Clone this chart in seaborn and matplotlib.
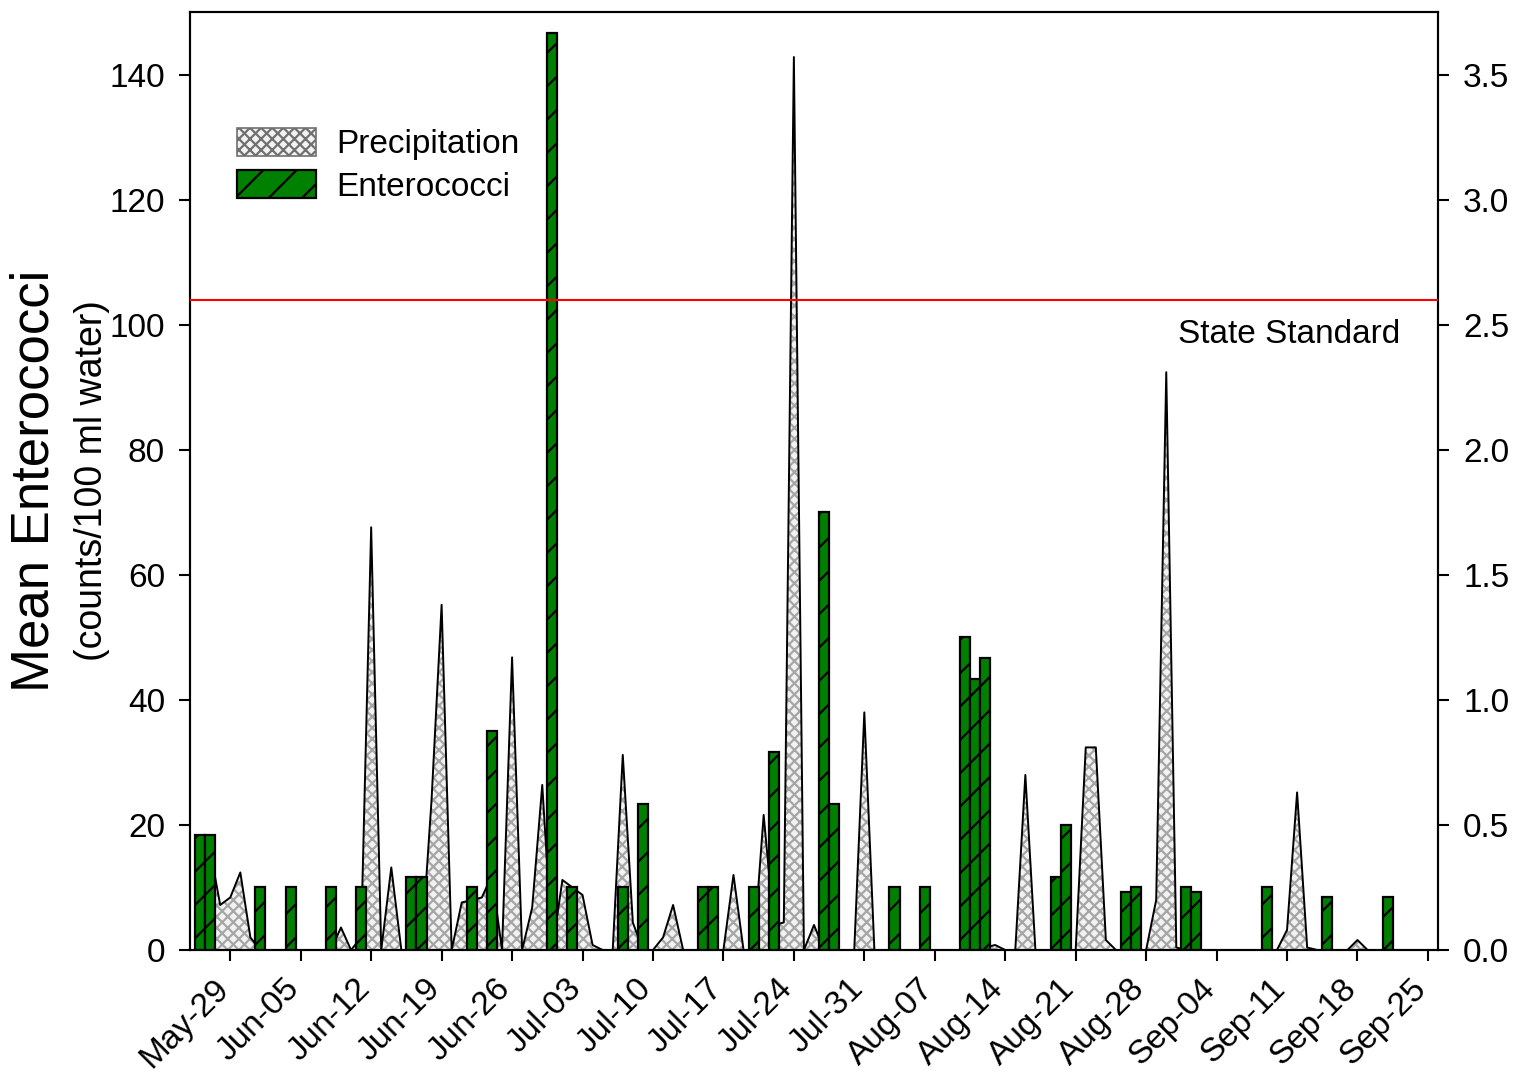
import numpy as np
import pandas as pd
import matplotlib
matplotlib.use('Agg')
import matplotlib.pyplot as plt
import matplotlib.dates as mdates
from matplotlib.patches import Patch
from matplotlib.ticker import FormatStrFormatter
import seaborn as sns

# ---------------- data ----------------
ent_dates = ['2009-05-26', '2009-05-27', '2009-06-01', '2009-06-04', '2009-06-08',
             '2009-06-11', '2009-06-16', '2009-06-17', '2009-06-22', '2009-06-24',
             '2009-06-30', '2009-07-02', '2009-07-07', '2009-07-09', '2009-07-15',
             '2009-07-16', '2009-07-20', '2009-07-22', '2009-07-27', '2009-07-28',
             '2009-08-03', '2009-08-06', '2009-08-10', '2009-08-11', '2009-08-12',
             '2009-08-19', '2009-08-20', '2009-08-26', '2009-08-27', '2009-09-01',
             '2009-09-02', '2009-09-09', '2009-09-15', '2009-09-21']
ent_values = [18.4, 18.4, 10, 10, 10,
              10, 11.7, 11.7, 10, 35,
              146.7, 10, 10, 23.4, 10,
              10, 10, 31.7, 70, 23.4,
              10, 10, 50, 43.4, 46.7,
              11.7, 20, 9.2, 10, 10,
              9.2, 10, 8.4, 8.4]

precip_start = '2009-05-26'
precip_values = [
    0.30, 0.40, 0.18, 0.21, 0.31, 0.05, 0.00,   # May-26 .. Jun-01
    0.00, 0.00, 0.00, 0.00, 0.00, 0.00, 0.00,   # Jun-02 .. Jun-08
    0.09, 0.00, 0.05, 1.69, 0.00, 0.33, 0.00,   # Jun-09 .. Jun-15
    0.00, 0.00, 0.60, 1.38, 0.00, 0.19, 0.20,   # Jun-16 .. Jun-22
    0.21, 0.30, 0.00, 1.17, 0.00, 0.17, 0.66,   # Jun-23 .. Jun-29
    0.00, 0.28, 0.25, 0.22, 0.02, 0.00, 0.00,   # Jun-30 .. Jul-06
    0.78, 0.11, 0.00, 0.00, 0.05, 0.18, 0.00,   # Jul-07 .. Jul-13
    0.00, 0.00, 0.00, 0.00, 0.30, 0.00, 0.00,   # Jul-14 .. Jul-20
    0.54, 0.10, 0.11, 3.57, 0.00, 0.10, 0.00,   # Jul-21 .. Jul-27
    0.00, 0.00, 0.00, 0.95, 0.00, 0.00, 0.00,   # Jul-28 .. Aug-03
    0.00, 0.00, 0.00, 0.00, 0.00, 0.00, 0.00,   # Aug-04 .. Aug-10
    0.00, 0.01, 0.02, 0.00, 0.00, 0.70, 0.00,   # Aug-11 .. Aug-17
    0.00, 0.00, 0.00, 0.00, 0.81, 0.81, 0.04,   # Aug-18 .. Aug-24
    0.00, 0.00, 0.00, 0.00, 0.20, 2.31, 0.01,   # Aug-25 .. Aug-31
    0.00, 0.00, 0.00, 0.00, 0.00, 0.00, 0.00,   # Sep-01 .. Sep-07
    0.00, 0.00, 0.00, 0.08, 0.63, 0.01, 0.00,   # Sep-08 .. Sep-14
    0.00, 0.00, 0.00, 0.04, 0.00, 0.00, 0.00,   # Sep-15 .. Sep-21
    0.00, 0.00, 0.00, 0.00, 0.00,               # Sep-22 .. Sep-26
]

state_standard = 104
x_tick_dates = ['2009-05-29', '2009-06-05', '2009-06-12', '2009-06-19', '2009-06-26',
                '2009-07-03', '2009-07-10', '2009-07-17', '2009-07-24', '2009-07-31',
                '2009-08-07', '2009-08-14', '2009-08-21', '2009-08-28', '2009-09-04',
                '2009-09-11', '2009-09-18', '2009-09-25']
left_ticks = [0, 20, 40, 60, 80, 100, 120, 140]
right_ticks = [0.0, 0.5, 1.0, 1.5, 2.0, 2.5, 3.0, 3.5]

# ---------------- style ----------------
sns.set_theme(style='ticks')
plt.rcParams['font.family'] = ['Liberation Sans', 'DejaVu Sans']
plt.rcParams['hatch.linewidth'] = 1.6
plt.rcParams['axes.linewidth'] = 1.5
plt.rcParams['text.color'] = 'black'
plt.rcParams['axes.labelcolor'] = 'black'
plt.rcParams['xtick.color'] = 'black'
plt.rcParams['ytick.color'] = 'black'
plt.rcParams['axes.edgecolor'] = 'black'

W, H = 1518, 1072
fig = plt.figure(figsize=(W / 100, H / 100), dpi=100)
ax = fig.add_axes([190 / W, 1 - 950 / H, 1248 / W, 938 / H])
ax2 = ax.twinx()
ax.set_zorder(ax2.get_zorder() + 1)
ax.patch.set_visible(False)

# precipitation (right axis)
prec_x = mdates.date2num(pd.date_range(precip_start, periods=len(precip_values), freq='D'))
ax2.fill_between(prec_x, 0, precip_values, facecolor='#f2f2f2', edgecolor='#a6a6a6',
                 hatch='xxx', linewidth=0)
sns.lineplot(x=prec_x, y=precip_values, ax=ax2, color='black', linewidth=1.4)

# enterococci bars (left axis)
ent_x = mdates.date2num(pd.to_datetime(ent_dates))
sns.barplot(x=ent_x, y=ent_values, ax=ax, native_scale=True, width=1.0,
            color='#008000', saturation=1, edgecolor='black', linewidth=1.6,
            hatch='/', errorbar=None)

ax.axhline(state_standard, color='#ff0000', linewidth=1.5, zorder=5)
ax.text(0.9696, 98.4, 'State Standard', transform=ax.get_yaxis_transform(),
        ha='right', va='center', fontsize=24, color='black')

# axes
ax.set_xlim(mdates.date2num(pd.Timestamp('2009-05-25')), mdates.date2num(pd.Timestamp('2009-09-26')))
ax.set_ylim(0, 150)
ax2.set_ylim(0, 3.75)
ax.set_yticks(left_ticks)
ax2.set_yticks(right_ticks)
ax2.yaxis.set_major_formatter(FormatStrFormatter('%.1f'))
ax.set_xticks(mdates.date2num(pd.to_datetime(x_tick_dates)))
ax.xaxis.set_major_formatter(mdates.DateFormatter('%b-%d'))
ax.set_xlabel('')
ax.set_ylabel('')
ax2.set_ylabel('')
ax2.set_xlabel('')

ax.tick_params(axis='y', left=True, right=False, labelsize=24, length=8, width=1.5,
               pad=10, direction='out', color='black', labelcolor='black')
ax.tick_params(axis='x', bottom=True, labelsize=24, length=8, width=1.5, pad=21,
               direction='out', color='black', labelcolor='black')
ax2.tick_params(axis='y', right=True, left=False, labelsize=24, length=8, width=1.5,
                pad=10, direction='out', color='black', labelcolor='black')
for lab in ax.get_xticklabels():
    lab.set_rotation(45)
    lab.set_ha('right')
    lab.set_va('baseline')
    lab.set_rotation_mode('anchor')
for a in (ax, ax2):
    for s in a.spines.values():
        s.set_visible(True)
        s.set_color('black')
        s.set_linewidth(1.5)
ax.grid(False)
ax2.grid(False)

handles = [Patch(facecolor='#f2f2f2', edgecolor='#707070', hatch='xxx', linewidth=1.2),
           Patch(facecolor='#008000', edgecolor='black', hatch='/', linewidth=1.6)]
leg = ax.legend(handles, ['Precipitation', 'Enterococci'], loc='upper left',
                bbox_to_anchor=(0.0377, 0.8765), frameon=False, fontsize=24,
                handlelength=2.37, handleheight=0.9, handletextpad=0.6,
                labelspacing=0.3, borderaxespad=0, borderpad=0)
for t in leg.get_texts():
    t.set_color('black')

fig.text(35 / W, 1 - 481 / H, 'Mean Enterococci', rotation=90, ha='center',
         va='center', fontsize=38, color='black')
fig.text(92 / W, 1 - 481 / H, '(counts/100 ml water)', rotation=90, ha='center',
         va='center', fontsize=27, color='black')

fig.savefig('out.png', dpi=100)
